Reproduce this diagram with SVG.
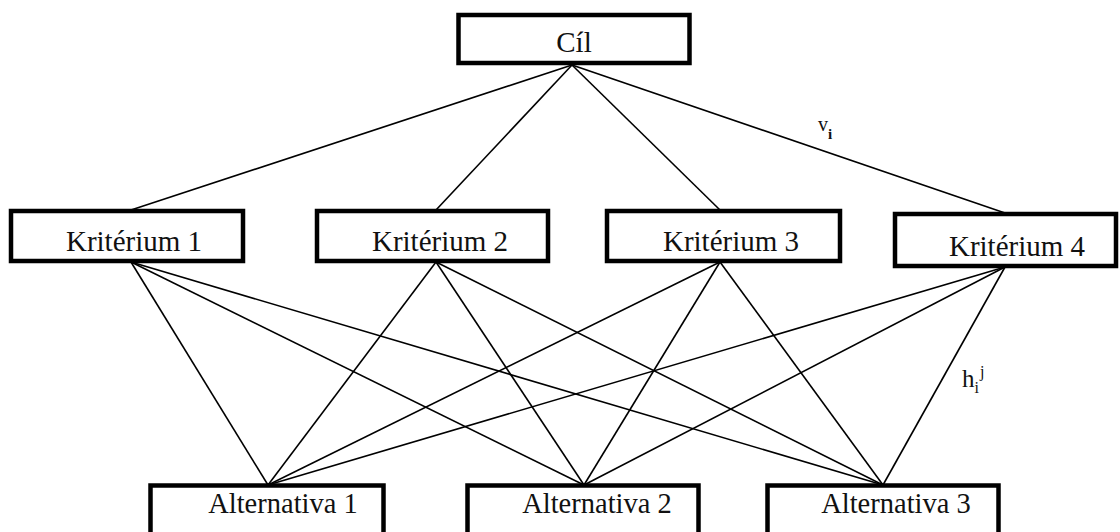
<svg xmlns="http://www.w3.org/2000/svg" width="1120" height="532" viewBox="0 0 1120 532">
<style>
.box{fill:#fff;stroke:#000;stroke-width:4.5}
.lbl{font-family:"Liberation Serif","Times New Roman",serif;font-size:29px;fill:#111;text-anchor:middle}
.alt{font-size:28.5px}
.ln{stroke:#000;stroke-width:1.6;fill:none}
.sm{font-family:"Liberation Serif","Times New Roman",serif;fill:#111}
</style>
<rect width="1120" height="532" fill="#fff"/>
<g id="connectors">
<line class="ln" x1="572" y1="65" x2="131" y2="210"/>
<line class="ln" x1="572" y1="65" x2="436" y2="210"/>
<line class="ln" x1="572" y1="65" x2="720" y2="210"/>
<line class="ln" x1="572" y1="65" x2="1005" y2="213"/>
<line class="ln" x1="131" y1="262" x2="268" y2="485"/>
<line class="ln" x1="131" y1="262" x2="584" y2="485"/>
<line class="ln" x1="131" y1="262" x2="883" y2="485"/>
<line class="ln" x1="436" y1="262" x2="268" y2="485"/>
<line class="ln" x1="436" y1="262" x2="584" y2="485"/>
<line class="ln" x1="436" y1="262" x2="883" y2="485"/>
<line class="ln" x1="720" y1="262" x2="268" y2="485"/>
<line class="ln" x1="720" y1="262" x2="584" y2="485"/>
<line class="ln" x1="720" y1="262" x2="883" y2="485"/>
<line class="ln" x1="1005" y1="267" x2="268" y2="485"/>
<line class="ln" x1="1005" y1="267" x2="584" y2="485"/>
<line class="ln" x1="1005" y1="267" x2="883" y2="485"/>
</g>
<g id="cil"><rect class="box" x="458.5" y="15" width="231" height="48"/><text class="lbl" x="574" y="52" font-size="28">Cíl</text></g>
<g id="k1"><rect class="box" x="11" y="211" width="232" height="50"/><text class="lbl" x="134" y="251">Kritérium 1</text></g>
<g id="k2"><rect class="box" x="317" y="211" width="231" height="50"/><text class="lbl" x="440" y="251">Kritérium 2</text></g>
<g id="k3"><rect class="box" x="607" y="211" width="233" height="50"/><text class="lbl" x="731" y="251">Kritérium 3</text></g>
<g id="k4"><rect class="box" x="895" y="214" width="221" height="52"/><text class="lbl" x="1017" y="256">Kritérium 4</text></g>
<g id="a1"><rect class="box" x="150.5" y="485.5" width="233" height="60"/><text class="lbl alt" x="283" y="513">Alternativa 1</text></g>
<g id="a2"><rect class="box" x="467.5" y="485.5" width="231" height="60"/><text class="lbl alt" x="597" y="513">Alternativa 2</text></g>
<g id="a3"><rect class="box" x="767.5" y="485.5" width="231" height="60"/><text class="lbl alt" x="896" y="513">Alternativa 3</text></g>
<g id="labels">
<text class="sm" x="818" y="131" font-size="20">v<tspan font-size="15" dy="8" font-weight="bold">i</tspan></text>
<text class="sm" x="962" y="387" font-size="25">h<tspan font-size="16" dy="6">i</tspan><tspan font-size="16" dx="1" dy="-16">j</tspan></text>
</g>
</svg>
